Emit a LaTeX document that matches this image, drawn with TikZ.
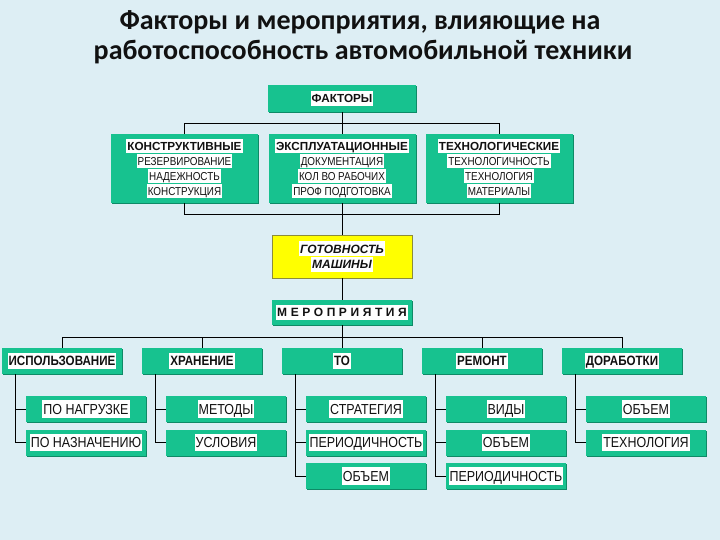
\documentclass[tikz,border=0pt]{standalone}
\usepackage{fontspec}
\setmainfont{Liberation Sans}
\newfontfamily\mttitlefont{Carlito}
\newfontfamily\mtnarrowfont[FakeStretch=0.86]{Liberation Sans}
\newfontfamily\mtspacedfont[LetterSpace=30]{Liberation Sans}
\usepackage{tikz}
\usetikzlibrary{positioning}
\definecolor{mtsky}   {HTML}{DDEEF4}
\definecolor{mtteal}  {HTML}{17C28F}
\definecolor{mtshade} {HTML}{0E8A66}
\definecolor{mtsun}   {HTML}{FFFF00}
\definecolor{mtolive} {HTML}{8C8C3A}
\definecolor{mtink}   {HTML}{111111}
\newcommand{\mthl}[1]{{\setlength{\fboxsep}{1pt}\colorbox{white}{\vphantom{ДЙ}#1}}}
\newcommand{\mtsmall}{\mtnarrowfont\mdseries\fontsize{11.5}{15}\selectfont}
\tikzset{
  mtbox/.style={fill=mtteal, inner sep=0pt, align=center, text=mtink,
                preaction={fill=mtshade, transform canvas={shift={(1.2pt,-1.2pt)}}}},
  mthead/.style={mtbox, font=\bfseries\fontsize{11.7}{15}\selectfont},
  mtfactor/.style={mthead, minimum width=147pt, minimum height=69pt},
  mtrow/.style={mtbox, minimum width=120pt, minimum height=26pt,
                font=\mtnarrowfont\bfseries\fontsize{13.5}{16}\selectfont},
  mtsub/.style={mtbox, minimum width=120pt, minimum height=26pt,
                font=\mtnarrowfont\fontsize{14.5}{16}\selectfont},
  mtready/.style={fill=mtsun, draw=mtolive, inner sep=0pt, align=center, text=mtink,
                  minimum width=140pt, minimum height=43pt,
                  font=\bfseries\itshape\fontsize{12}{15.5}\selectfont},
  mtedge/.style={draw=black, line width=0.9pt},
  mttitle/.style={anchor=base, text=mtink, inner sep=0pt,
                  font=\mttitlefont\bfseries\fontsize{28}{30}\selectfont},
}
\begin{document}
\begin{tikzpicture}[x=1pt,y=-1pt]
  \fill[mtsky] (0,0) rectangle (720,540);
  \node[mttitle] (title) at (360,30) {Факторы и мероприятия, влияющие на};
  \node[mttitle] (subtitle) at (363,60) {работоспособность автомобильной техники};
  % factors
  \node[mthead, minimum width=148pt, minimum height=27pt] (factors) at (342,98.5)
    {\mthl{ФАКТОРЫ}};
  \node[mtfactor] (f1) at (184.5,168.5)
    {\mthl{КОНСТРУКТИВНЫЕ}\\{\mtsmall\mthl{РЕЗЕРВИРОВАНИЕ}}\\
     {\mtsmall\mthl{НАДЕЖНОСТЬ}}\\{\mtsmall\mthl{КОНСТРУКЦИЯ}}};
  \node[mtfactor] (f2) at (342,168.5)
    {\mthl{ЭКСПЛУАТАЦИОННЫЕ}\\{\mtsmall\mthl{ДОКУМЕНТАЦИЯ}}\\
     {\mtsmall\mthl{КОЛ ВО РАБОЧИХ}}\\{\mtsmall\mthl{ПРОФ ПОДГОТОВКА}}};
  \node[mtfactor] (f3) at (499,168.5)
    {\mthl{ТЕХНОЛОГИЧЕСКИЕ}\\{\mtsmall\mthl{ТЕХНОЛОГИЧНОСТЬ}}\\
     {\mtsmall\mthl{ТЕХНОЛОГИЯ}}\\{\mtsmall\mthl{МАТЕРИАЛЫ}}};
  \coordinate (fbar) at (342,123);
  \draw[mtedge] (factors.south) -- (f2.north);
  \draw[mtedge] (f1.north) -- (f1.north |- fbar) -- (f3.north |- fbar) -- (f3.north);
  \draw[mtedge] (f1.south) -- ++(0,11) -| (f3.south);
  % readiness and measures
  \node[mtready] (ready) at (342,256.5) {\mthl{ГОТОВНОСТЬ}\\\mthl{МАШИНЫ}};
  \node[mtbox, minimum width=140pt, minimum height=25pt,
        font=\mtspacedfont\bfseries\fontsize{12}{14}\selectfont] (measures) at (342,312.5)
    {\mthl{МЕРОПРИЯТИЯ}};
  \draw[mtedge] (f2.south) -- (ready.north);
  \draw[mtedge] (ready.south) -- (measures.north);
  \foreach \i/\t in {0/ИСПОЛЬЗОВАНИЕ, 1/ХРАНЕНИЕ, 2/ТО, 3/РЕМОНТ, 4/ДОРАБОТКИ}
    \node[mtrow] (r\i) at ({62+140*\i},361) {\mthl{\t}};
  \draw[mtedge] (measures.south) -- (r2.north);
  \draw[mtedge] (r0.north) -- ++(0,-10) -| (r4.north);
  \foreach \i in {1,3}
    \draw[mtedge] (r\i.north) -- ++(0,-10);
  % sub items
  \foreach \i/\j/\t in {0/1/ПО НАГРУЗКЕ, 0/2/ПО НАЗНАЧЕНИЮ, 1/1/МЕТОДЫ, 1/2/УСЛОВИЯ,
      2/1/СТРАТЕГИЯ, 2/2/ПЕРИОДИЧНОСТЬ, 2/3/ОБЪЕМ, 3/1/ВИДЫ, 3/2/ОБЪЕМ,
      3/3/ПЕРИОДИЧНОСТЬ, 4/1/ОБЪЕМ, 4/2/ТЕХНОЛОГИЯ}
    {\node[mtsub] (s\i-\j) at ({86+140*\i},{409+33.5*(\j-1)}) {\mthl{\t}};
     \draw[mtedge] ([xshift=14pt]r\i.south west) |- (s\i-\j.west);}
\end{tikzpicture}
\end{document}
